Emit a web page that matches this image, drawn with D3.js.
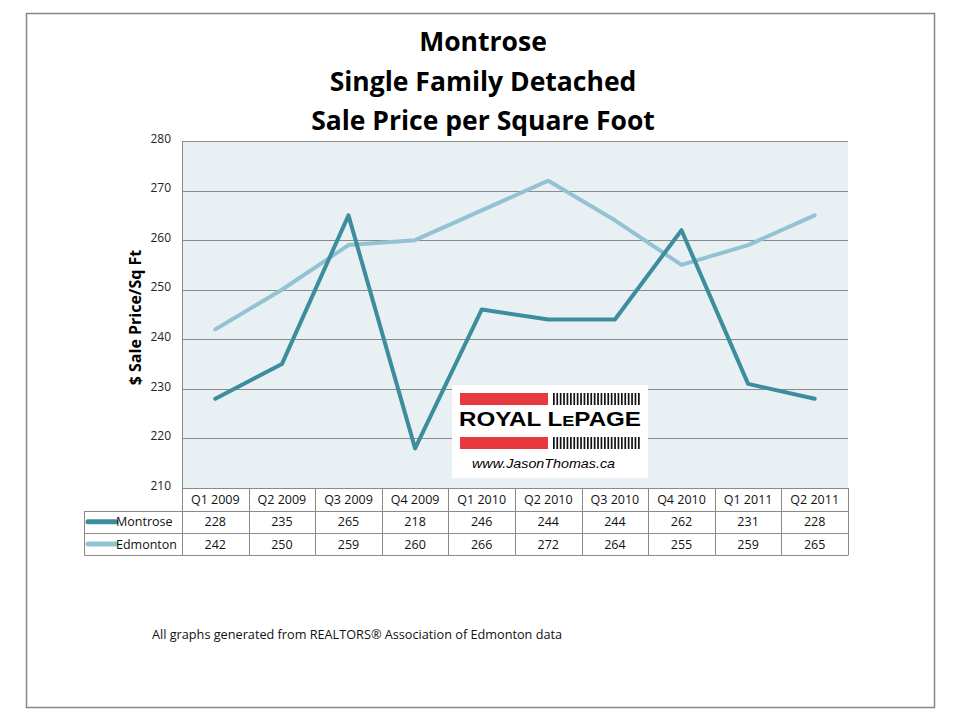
<!DOCTYPE html>
<html><head><meta charset="utf-8">
<script src="https://cdn.jsdelivr.net/npm/d3@7"></script>
<style>body{margin:0;background:#fff}svg{display:block}</style>
</head><body>
<script>
const quarters = ["Q1 2009","Q2 2009","Q3 2009","Q4 2009","Q1 2010","Q2 2010","Q3 2010","Q4 2010","Q1 2011","Q2 2011"];
const montrose = [228,235,265,218,246,244,244,262,231,228];
const edmonton = [242,250,259,260,266,272,264,255,259,265];
const seriesNames = ["Montrose","Edmonton"];
const seriesColors = ["#3c8d9e","#93c3d3"];
const yTicks = [210,220,230,240,250,260,270,280];
const titleLines = ["Montrose","Single Family Detached","Sale Price per Square Foot"];

const W=960,H=720;
const svg=d3.select("body").append("svg").attr("width",W).attr("height",H);
const font="'Open Sans', sans-serif";

svg.append("rect").attr("x",26.5).attr("y",13.5).attr("width",908).attr("height",694)
  .attr("fill","#fff").attr("stroke","#868686").attr("stroke-width",1.5);

const pl=182,pr=848,pt=141,pb=488;
const x=d3.scaleBand().domain(quarters).range([pl,pr]);
const y=d3.scaleLinear().domain([210,280]).range([pb,pt]);

svg.append("rect").attr("x",pl).attr("y",pt).attr("width",pr-pl).attr("height",pb-pt).attr("fill","#e8f0f4");

svg.append("g").selectAll("line").data(yTicks.filter(d=>d>210)).join("line")
  .attr("x1",pl).attr("x2",pr).attr("y1",d=>Math.round(y(d))+0.5).attr("y2",d=>Math.round(y(d))+0.5)
  .attr("stroke","#8a8a8a").attr("stroke-width",1);
svg.append("line").attr("x1",pl+0.5).attr("x2",pl+0.5).attr("y1",pt).attr("y2",pb).attr("stroke","#8a8a8a");

const ya=svg.append("g").attr("transform",`translate(${pl-11},0)`)
  .call(d3.axisLeft(y).tickValues(yTicks).tickSize(0).tickPadding(0));
ya.select(".domain").remove();
ya.selectAll("text").attr("font-family",font).attr("font-size",12).attr("fill","#222").attr("dy","0.1em");

svg.append("text").attr("transform",`translate(141,${(pt+pb)/2+3}) rotate(-90)`)
  .attr("text-anchor","middle").attr("font-family",font).attr("font-weight","bold").attr("font-size",16)
  .text("$ Sale Price/Sq Ft");

svg.append("g").selectAll("text").data(titleLines).join("text")
  .attr("x",483).attr("y",(d,i)=>51+i*39.5).attr("text-anchor","middle")
  .attr("font-family",font).attr("font-weight","bold").attr("font-size",26.5).attr("fill","#000").text(d=>d);

const series=[montrose,edmonton];
const line=d3.line().x((d,i)=>x(quarters[i])+x.bandwidth()/2).y(d=>y(d));
[1,0].forEach(k=>{
  svg.append("path").datum(series[k]).attr("d",line).attr("fill","none")
    .attr("stroke",seriesColors[k]).attr("stroke-width",4).attr("stroke-linejoin","round").attr("stroke-linecap","round");
});

const lg=svg.append("g");
lg.append("rect").attr("x",452).attr("y",385).attr("width",196).attr("height",93).attr("fill","#fff");
[393,437].forEach(yy=>{
  lg.append("rect").attr("x",460).attr("y",yy).attr("width",88).attr("height",12).attr("fill","#e8373f");
  lg.append("g").selectAll("rect").data(d3.range(26)).join("rect")
    .attr("x",i=>553+i*3.4).attr("y",yy).attr("width",1.7).attr("height",12).attr("fill","#111");
});
lg.append("text").attr("x",459).attr("y",426).attr("font-family","'Liberation Sans', Arial, sans-serif")
  .attr("font-weight","bold").attr("font-size",20).attr("textLength",182).attr("lengthAdjust","spacingAndGlyphs")
  .html('ROYAL L<tspan font-size="15">E</tspan>PAGE');
lg.append("text").attr("x",472).attr("y",468).attr("font-family","'Liberation Sans', Arial, sans-serif")
  .attr("font-style","italic").attr("font-size",13).attr("textLength",143).attr("lengthAdjust","spacingAndGlyphs")
  .text("www.JasonThomas.ca");

const rowT=[488,510.5,533],rowB=[510.5,533,555];
const tb=svg.append("g").attr("font-family",font).attr("font-size",12.5).attr("fill","#111");
const gc="#8a8a8a";
tb.append("line").attr("x1",pl).attr("x2",pr).attr("y1",488.5).attr("y2",488.5).attr("stroke",gc);
[510.5,533,555].forEach(yy=>tb.append("line").attr("x1",84.5).attr("x2",pr).attr("y1",Math.round(yy)+0.5).attr("y2",Math.round(yy)+0.5).attr("stroke",gc));
quarters.forEach(q=>tb.append("line").attr("x1",Math.round(x(q))+0.5).attr("x2",Math.round(x(q))+0.5).attr("y1",488).attr("y2",555.5).attr("stroke",gc));
tb.append("line").attr("x1",pr+0.5).attr("x2",pr+0.5).attr("y1",488).attr("y2",555.5).attr("stroke",gc);
tb.append("line").attr("x1",84.5).attr("x2",84.5).attr("y1",511).attr("y2",555.5).attr("stroke",gc);
tb.selectAll("text.h").data(quarters).join("text").attr("class","h")
  .attr("x",d=>x(d)+x.bandwidth()/2).attr("y",504).attr("text-anchor","middle").text(d=>d);
series.forEach((s,k)=>{
  const cy=(rowT[k+1]+rowB[k+1])/2;
  tb.append("line").attr("x1",88).attr("x2",116).attr("y1",cy).attr("y2",cy)
    .attr("stroke",seriesColors[k]).attr("stroke-width",5).attr("stroke-linecap","round");
  tb.append("text").attr("x",116).attr("y",cy+4.5).text(seriesNames[k]);
  tb.append("g").selectAll("text").data(s).join("text")
    .attr("x",(d,i)=>x(quarters[i])+x.bandwidth()/2).attr("y",cy+4.5).attr("text-anchor","middle").text(d=>d);
});

svg.append("text").attr("x",152).attr("y",639).attr("font-family",font).attr("font-size",12.7).attr("fill","#111")
  .text("All graphs generated from REALTORS® Association of Edmonton data");
</script>
</body></html>
